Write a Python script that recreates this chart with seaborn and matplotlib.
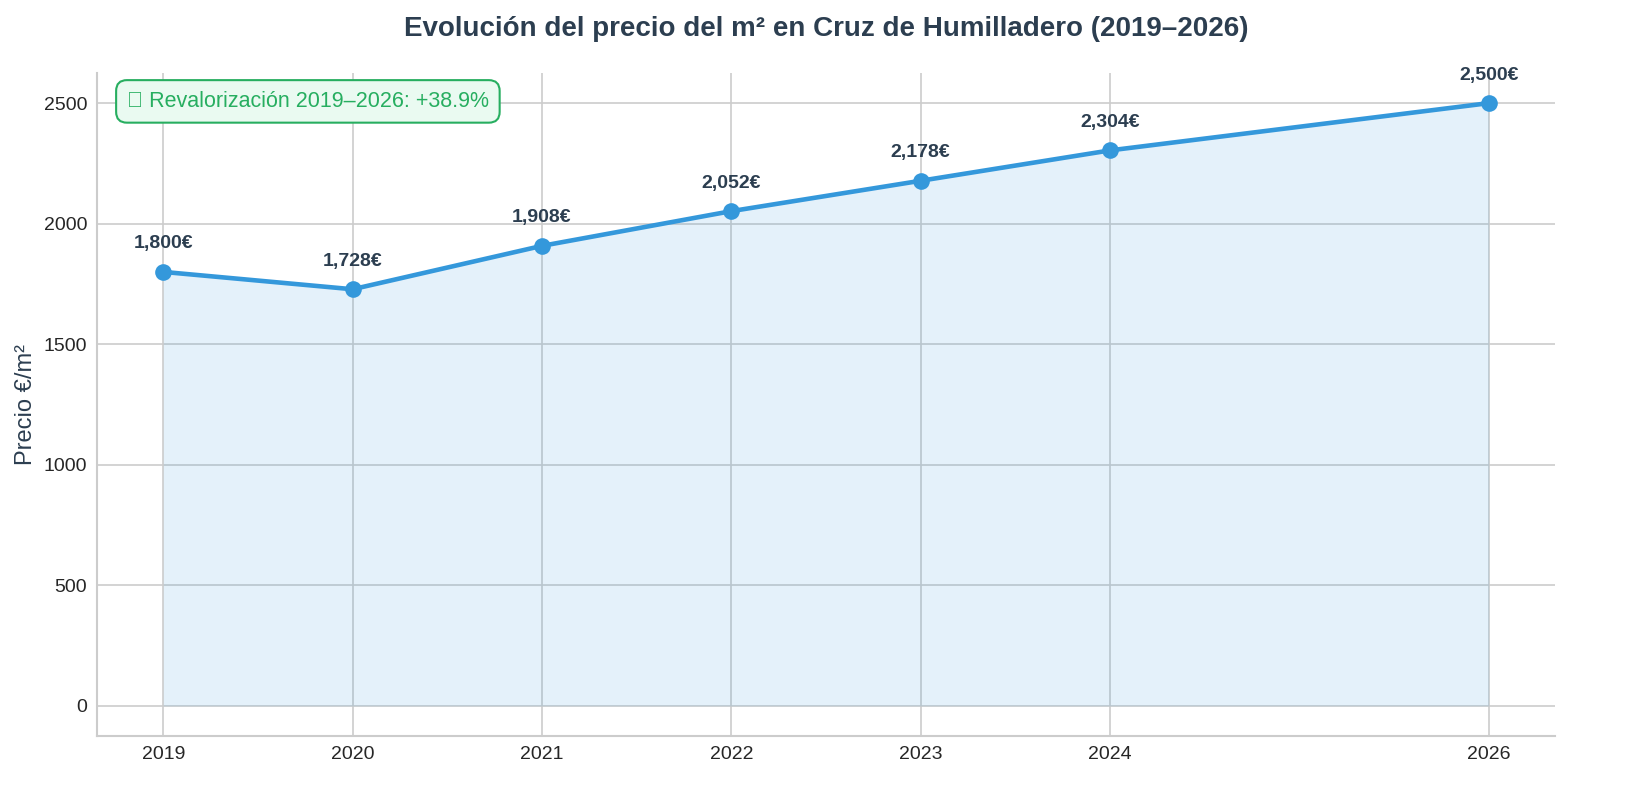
import pandas as pd
import matplotlib
matplotlib.use('Agg')
import matplotlib.pyplot as plt
import seaborn as sns

# Datos
anios = [2019, 2020, 2021, 2022, 2023, 2024, 2026]
precios = [1800, 1728, 1908, 2052, 2178, 2304, 2500]
revalorizacion = (precios[-1] / precios[0] - 1) * 100

df = pd.DataFrame({'Año': anios, 'Precio': precios})

sns.set_style('whitegrid')
plt.rcParams['font.family'] = ['Liberation Sans', 'DejaVu Sans']

fig = plt.figure(figsize=(16.36, 8.1), dpi=100)
ax = fig.add_axes([97 / 1636, 1 - 736 / 810, (1555 - 97) / 1636, (736 - 73) / 810])

azul = '#3498db'
oscuro = '#2c3e50'

ax.fill_between(df['Año'], df['Precio'], 0, color=azul, alpha=0.13, linewidth=0)
sns.lineplot(data=df, x='Año', y='Precio', ax=ax, color=azul, linewidth=3.3,
             marker='o', markersize=12, markeredgewidth=0)

for x, y in zip(anios, precios):
    ax.annotate(f'{y:,}€', (x, y), xytext=(0, 14), textcoords='offset points',
                ha='center', va='bottom', fontsize=14, fontweight='bold', color=oscuro)

ax.text(0.0205, 0.973, f'📈 Revalorización 2019–2026: +{revalorizacion:.1f}%',
        transform=ax.transAxes, fontsize=15.5, color='#27ae60', va='top', ha='left',
        bbox=dict(boxstyle='round,pad=0.5', facecolor='#eafaf1', edgecolor='#27ae60', linewidth=1.5))

ax.set_title('Evolución del precio del m² en Cruz de Humilladero (2019–2026)',
             fontsize=20, fontweight='bold', color=oscuro, pad=27)
ax.set_ylabel('Precio €/m²', fontsize=17, color=oscuro, labelpad=5)
ax.set_xlabel('')
ax.set_xticks(anios)
ax.set_xticklabels([str(a) for a in anios])
ax.tick_params(labelsize=14)
ax.grid(True, color='#cccccc', linewidth=1.2)
sns.despine(ax=ax)
for s in ['left', 'bottom']:
    ax.spines[s].set_color('#cccccc')
    ax.spines[s].set_linewidth(1.5)

fig.savefig('out.png', dpi=100)
